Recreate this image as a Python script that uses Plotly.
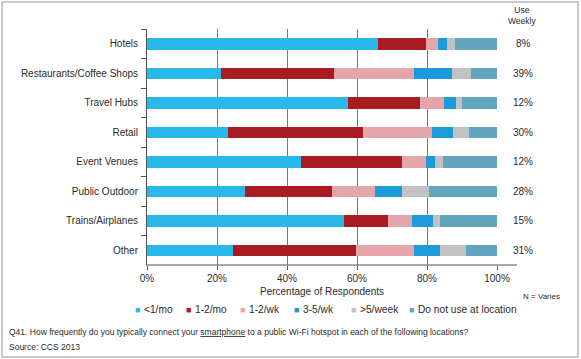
import plotly.graph_objects as go

categories = ["Hotels", "Restaurants/Coffee Shops", "Travel Hubs", "Retail",
              "Event Venues", "Public Outdoor", "Trains/Airplanes", "Other"]
series_names = ["<1/mo", "1-2/mo", "1-2/wk", "3-5/wk", ">5/week", "Do not use at location"]
lt1_mo = [65.9, 21.0, 57.5, 23.1, 44.0, 28.0, 56.3, 24.5]
m1_2_mo = [13.9, 32.4, 20.6, 38.6, 28.8, 24.9, 12.6, 35.3]
w1_2_wk = [3.4, 22.9, 6.8, 19.6, 6.8, 12.2, 6.7, 16.5]
w3_5_wk = [2.6, 10.7, 3.5, 6.1, 2.6, 7.8, 6.1, 7.4]
gt5_week = [2.1, 5.6, 1.6, 4.6, 2.3, 7.6, 1.9, 7.4]
not_use = [12.1, 7.4, 10.0, 8.0, 15.5, 19.5, 16.4, 8.9]
use_weekly = ["8%", "39%", "12%", "30%", "12%", "28%", "15%", "31%"]
x_tickvals = [0, 20, 40, 60, 80, 100]
x_ticktext = ["0%", "20%", "40%", "60%", "80%", "100%"]

colors = ["#29B8EA", "#A81B20", "#E4A6AA", "#1C9BDA", "#C2C2C4", "#63A5BF"]
values = [lt1_mo, m1_2_mo, w1_2_wk, w3_5_wk, gt5_week, not_use]

W, H = 581, 359
L, R, T, B = 147, 497, 29, 265  # plot area in px

def px(x):
    return (x - L) / (R - L)

def py(y):
    return (B - y) / (B - T)

fig = go.Figure()
for name, vals, col in zip(series_names, values, colors):
    fig.add_trace(go.Bar(y=categories, x=vals, name=name, orientation="h",
                         marker=dict(color=col, line=dict(width=0)),
                         showlegend=False))

FONT = "Liberation Sans, Arial, sans-serif"
TXT = "#2b2b2b"

fig.update_layout(
    width=W, height=H,
    margin=dict(l=L, r=W - R, t=T, b=H - B, autoexpand=False),
    barmode="stack", bargap=0.61,
    plot_bgcolor="white", paper_bgcolor="white",
    font=dict(family=FONT, color=TXT, size=10),
    xaxis=dict(range=[0, 100], tickvals=x_tickvals, ticktext=x_ticktext,
               showgrid=True, gridcolor="#7a7a7a", gridwidth=1,
               ticks="outside", ticklen=4, tickcolor="#555555",
               showline=False, zeroline=False,
               tickfont=dict(size=10, color=TXT), fixedrange=True),
    yaxis=dict(type="category", autorange="reversed",
               showline=True, linecolor="#555555", linewidth=1,
               ticks="outside", tickson="boundaries", ticklen=5,
               tickcolor="#555555", tickfont=dict(size=10, color=TXT),
               ticklabelstandoff=6, showgrid=False, fixedrange=True),
)

shapes = []
# extended x-axis line
shapes.append(dict(type="line", xref="paper", yref="paper",
                   x0=px(146), x1=px(517), y0=0, y1=0,
                   line=dict(color="#555555", width=1)))
# outer border
shapes.append(dict(type="rect", xref="paper", yref="paper",
                   x0=px(2), x1=px(578), y0=py(357), y1=py(2),
                   line=dict(color="#c9c9c9", width=2), layer="below"))
fig.update_layout(shapes=shapes)

ann = []
# Use weekly header
ann.append(dict(text="Use<br>Weekly", xref="paper", yref="paper",
                x=px(522), y=py(16), showarrow=False, font=dict(size=8.5, color=TXT),
                xanchor="center", yanchor="middle", align="center"))
for cat, v in zip(categories, use_weekly):
    ann.append(dict(text=v, xref="paper", yref="y", x=px(523), y=cat,
                    showarrow=False, xanchor="center", yanchor="middle",
                    font=dict(size=10, color=TXT)))
# axis title
ann.append(dict(text="Percentage of Respondents", xref="paper", yref="paper",
                x=0.5, y=py(291), showarrow=False, xanchor="center", yanchor="middle",
                font=dict(size=10, color=TXT)))
# legend (custom)
leg_x = [137, 188, 242, 296, 353, 411]
for xx, name, col in zip(leg_x, series_names, colors):
    ann.append(dict(text="■", xref="paper", yref="paper", x=px(xx), y=py(309.5),
                    showarrow=False, xanchor="center", yanchor="middle",
                    font=dict(size=9, color=col)))
    ann.append(dict(text=name.replace("<", "&lt;").replace(">", "&gt;"),
                    xref="paper", yref="paper", x=px(xx + 5), y=py(309),
                    showarrow=False, xanchor="left", yanchor="middle",
                    font=dict(size=10.2, color=TXT)))
ann.append(dict(text="N = Varies", xref="paper", yref="paper", x=px(521), y=py(296),
                showarrow=False, xanchor="left", yanchor="middle",
                font=dict(size=8, color=TXT)))
ann.append(dict(text="Q41. How frequently do you typically connect your <u>smartphone</u> to a public Wi-Fi hotspot in each of the following locations?",
                xref="paper", yref="paper", x=px(7), y=py(332),
                showarrow=False, xanchor="left", yanchor="middle",
                font=dict(size=8.5, color=TXT)))
ann.append(dict(text="Source: CCS 2013", xref="paper", yref="paper", x=px(7), y=py(347),
                showarrow=False, xanchor="left", yanchor="middle",
                font=dict(size=8.5, color=TXT)))
fig.update_layout(annotations=ann)

fig.write_html("out.html", config={"displayModeBar": False})
with open("out.html", "r", encoding="utf-8") as f:
    html = f.read()
html = html.replace("<head>", "<head><style>html,body{margin:0;padding:0;overflow:hidden;}</style>", 1)
with open("out.html", "w", encoding="utf-8") as f:
    f.write(html)
